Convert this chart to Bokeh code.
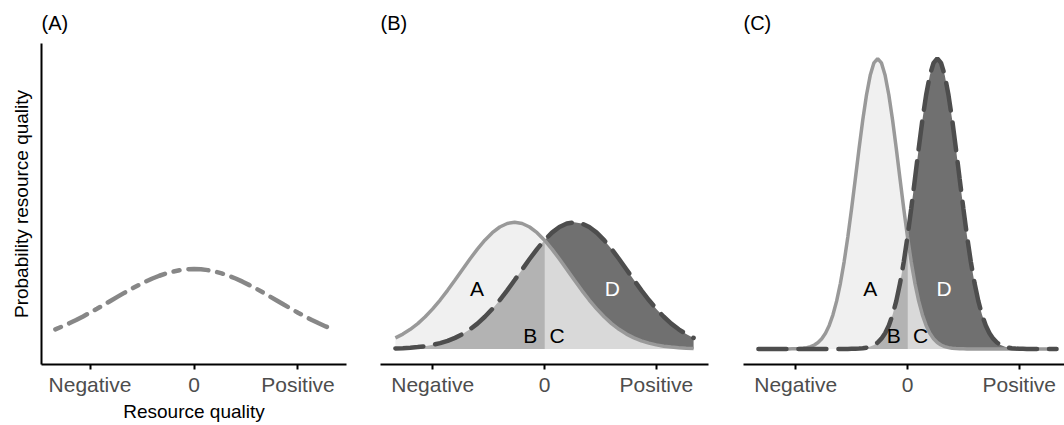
from bokeh.plotting import figure
from bokeh.layouts import row
from bokeh.models import Range1d, FixedTicker
from bokeh.core.properties import value
from bokeh.embed import file_html
from bokeh.resources import INLINE

FONT = "Liberation Sans"

# ---------------- data ----------------
TICKS = [-3, 0, 3]
TICK_LABELS = ["Negative", "0", "Positive"]
PANEL_TITLES = ["(A)", "(B)", "(C)"]
X_TITLE = "Resource quality"
Y_TITLE = "Probability resource quality"

X_AB = [-4.0, -3.8, -3.6, -3.4, -3.2, -3.0, -2.8, -2.6, -2.4, -2.2, -2.0,
        -1.8, -1.6, -1.4, -1.2, -1.0, -0.8, -0.6, -0.4, -0.2, 0.0,
        0.2, 0.4, 0.6, 0.8, 1.0, 1.2, 1.4, 1.6, 1.8, 2.0,
        2.2, 2.4, 2.6, 2.8, 3.0, 3.2, 3.4, 3.6, 3.8, 4.0]

# panel A: single broad curve
A_CURVE = [0.0455, 0.0522, 0.0595, 0.0672, 0.0755, 0.0841, 0.0932, 0.1024, 0.1118, 0.1212, 0.1305,
           0.1395, 0.1480, 0.1560, 0.1633, 0.1697, 0.1752, 0.1795, 0.1827, 0.1847, 0.1853,
           0.1847, 0.1827, 0.1795, 0.1752, 0.1697, 0.1633, 0.1560, 0.1480, 0.1395, 0.1305,
           0.1212, 0.1118, 0.1024, 0.0932, 0.0841, 0.0755, 0.0672, 0.0595, 0.0522, 0.0455]

# panel B: solid (left) and dashed (right) curves
B_SOLID = [0.0257, 0.0345, 0.0455, 0.0588, 0.0746, 0.0929, 0.1134, 0.1359, 0.1598, 0.1843, 0.2085,
           0.2315, 0.2522, 0.2696, 0.2827, 0.2909, 0.2937, 0.2909, 0.2827, 0.2696, 0.2522,
           0.2315, 0.2085, 0.1843, 0.1598, 0.1359, 0.1134, 0.0929, 0.0746, 0.0588, 0.0455,
           0.0345, 0.0257, 0.0188, 0.0135, 0.0095, 0.0065, 0.0044, 0.0029, 0.0019, 0.0012]
B_DASHED = [0.0012, 0.0019, 0.0029, 0.0044, 0.0065, 0.0095, 0.0135, 0.0188, 0.0257, 0.0345, 0.0455,
            0.0588, 0.0746, 0.0929, 0.1134, 0.1359, 0.1598, 0.1843, 0.2085, 0.2315, 0.2522,
            0.2696, 0.2827, 0.2909, 0.2937, 0.2909, 0.2827, 0.2696, 0.2522, 0.2315, 0.2085,
            0.1843, 0.1598, 0.1359, 0.1134, 0.0929, 0.0746, 0.0588, 0.0455, 0.0345, 0.0257]

X_C = [-4.0, -3.9, -3.8, -3.7, -3.6, -3.5, -3.4, -3.3, -3.2, -3.1,
       -3.0, -2.9, -2.8, -2.7, -2.6, -2.5, -2.4, -2.3, -2.2, -2.1,
       -2.0, -1.9, -1.8, -1.7, -1.6, -1.5, -1.4, -1.3, -1.2, -1.1,
       -1.0, -0.9, -0.8, -0.7, -0.6, -0.5, -0.4, -0.3, -0.2, -0.1,
       0.0, 0.1, 0.2, 0.3, 0.4, 0.5, 0.6, 0.7, 0.8, 0.9,
       1.0, 1.1, 1.2, 1.3, 1.4, 1.5, 1.6, 1.7, 1.8, 1.9,
       2.0, 2.1, 2.2, 2.3, 2.4, 2.5, 2.6, 2.7, 2.8, 2.9,
       3.0, 3.1, 3.2, 3.3, 3.4, 3.5, 3.6, 3.7, 3.8, 3.9, 4.0]

# panel C: narrow solid (left) and dashed (right) curves
C_SOLID = [0.0, 0.0, 0.0, 0.0, 0.0, 0.0, 0.0, 0.0,
           0.0001, 0.0003, 0.0005, 0.0010, 0.0018, 0.0031, 0.0055, 0.0092, 0.0150, 0.0238,
           0.0365, 0.0546, 0.0792, 0.1114, 0.1522, 0.2019, 0.2600, 0.3249, 0.3941, 0.4641,
           0.5306, 0.5887, 0.6342, 0.6631, 0.6730, 0.6631, 0.6342, 0.5887, 0.5306, 0.4641,
           0.3941, 0.3249, 0.2600, 0.2019, 0.1522, 0.1114, 0.0792, 0.0546, 0.0365, 0.0238,
           0.0150, 0.0092, 0.0055, 0.0031, 0.0018, 0.0010, 0.0005, 0.0003, 0.0001,
           0.0, 0.0, 0.0, 0.0, 0.0, 0.0, 0.0, 0.0, 0.0, 0.0, 0.0, 0.0,
           0.0, 0.0, 0.0, 0.0, 0.0, 0.0, 0.0, 0.0, 0.0, 0.0, 0.0, 0.0]
C_DASHED = [0.0, 0.0, 0.0, 0.0, 0.0, 0.0, 0.0, 0.0, 0.0, 0.0, 0.0, 0.0,
            0.0, 0.0, 0.0, 0.0, 0.0, 0.0, 0.0, 0.0, 0.0, 0.0, 0.0, 0.0,
            0.0001, 0.0003, 0.0005, 0.0010, 0.0018, 0.0031, 0.0055, 0.0092, 0.0150, 0.0238,
            0.0365, 0.0546, 0.0792, 0.1114, 0.1522, 0.2019, 0.2600, 0.3249, 0.3941, 0.4641,
            0.5306, 0.5887, 0.6342, 0.6631, 0.6730, 0.6631, 0.6342, 0.5887, 0.5306, 0.4641,
            0.3941, 0.3249, 0.2600, 0.2019, 0.1522, 0.1114, 0.0792, 0.0546, 0.0365, 0.0238,
            0.0150, 0.0092, 0.0055, 0.0031, 0.0018, 0.0010, 0.0005, 0.0003, 0.0001,
            0.0, 0.0, 0.0, 0.0, 0.0, 0.0, 0.0, 0.0]

REGION_LABELS = ["A", "B", "C", "D"]
REGION_COLORS = ["black", "black", "black", "white"]
B_LABEL_X = [-1.81, -0.38, 0.34, 1.82]
C_LABEL_X = [-1.00, -0.37, 0.35, 0.98]
LABEL_Y = [0.140, 0.031, 0.031, 0.140]

# ---------------- styling ----------------
Y_START, Y_END = -0.036, 0.708
COL_A_FILL = "#f0f0f0"
COL_B_FILL = "#b3b3b3"
COL_C_FILL = "#d9d9d9"
COL_D_FILL = "#707070"
COL_SOLID = "#999999"
COL_DASHED = "#4d4d4d"
COL_A_LINE = "#878787"


def make_fig(width, left, right, x_end, title):
    p = figure(width=width, height=425, x_range=Range1d(-4.4, x_end),
               y_range=Range1d(Y_START, Y_END), output_backend="svg",
               toolbar_location=None, min_border_left=left, min_border_right=right,
               min_border_top=43, min_border_bottom=61, title=title)
    p.outline_line_color = None
    p.grid.visible = False
    p.background_fill_color = "white"
    p.border_fill_color = "white"
    p.title.text_font = FONT
    p.title.text_font_size = "20px"
    p.title.text_font_style = "normal"
    p.title.text_color = "black"
    p.title.align = "left"
    p.title.offset = 0
    p.title.standoff = 19
    xa = p.xaxis[0]
    xa.ticker = FixedTicker(ticks=TICKS)
    xa.major_label_overrides = dict(zip(TICKS, TICK_LABELS))
    xa.major_label_text_font = FONT
    xa.major_label_text_font_size = "21px"
    xa.major_label_text_color = "#4d4d4d"
    xa.axis_line_color = "black"
    xa.axis_line_width = 2
    xa.major_tick_line_color = "black"
    xa.major_tick_line_width = 2
    xa.major_tick_in = 0
    xa.major_tick_out = 5
    xa.minor_tick_line_color = None
    xa.major_label_standoff = 3
    return p


def two_curve_panel(p, xs, solid, dashed, mid, label_x):
    p.varea(x=xs[:mid + 1], y1=0, y2=solid[:mid + 1], fill_color=COL_A_FILL)
    p.varea(x=xs[:mid + 1], y1=0, y2=dashed[:mid + 1], fill_color=COL_B_FILL)
    p.varea(x=xs[mid:], y1=0, y2=dashed[mid:], fill_color=COL_D_FILL)
    p.varea(x=xs[mid:], y1=0, y2=solid[mid:], fill_color=COL_C_FILL)
    p.line(xs, solid, line_color=COL_SOLID, line_width=3.5)
    p.line(xs, dashed, line_color=COL_DASHED, line_width=4.5, line_dash="28 12",
           line_cap="round")
    p.text(x=label_x, y=LABEL_Y, text=REGION_LABELS, text_color=REGION_COLORS,
           text_font=value(FONT), text_font_size="21px", text_align="center",
           text_baseline="middle")
    p.yaxis.visible = False


# Panel A
pA = make_fig(360, 41, 14, 4.4, PANEL_TITLES[0])
pA.line(X_AB, A_CURVE, line_color=COL_A_LINE, line_width=4.5, line_dash="6 9 20 9",
        line_cap="round")
xa = pA.xaxis[0]
xa.axis_label = X_TITLE
xa.axis_label_text_font = FONT
xa.axis_label_text_font_size = "19px"
xa.axis_label_text_font_style = "normal"
xa.axis_label_text_color = "black"
xa.axis_label_standoff = 2
ya = pA.yaxis[0]
ya.ticker = FixedTicker(ticks=[])
ya.major_tick_out = 0
ya.major_tick_in = 0
ya.minor_tick_line_color = None
ya.axis_line_color = "black"
ya.axis_line_width = 2
ya.axis_label = Y_TITLE
ya.axis_label_text_font = FONT
ya.axis_label_text_font_size = "19px"
ya.axis_label_text_font_style = "normal"
ya.axis_label_text_color = "black"
ya.axis_label_standoff = 10

# Panel B
pB = make_fig(350, 20, 2, 4.4, PANEL_TITLES[1])
two_curve_panel(pB, X_AB, B_SOLID, B_DASHED, 20, B_LABEL_X)

# Panel C (cut off at the right edge)
pC = make_fig(354, 33, 0, 4.213, PANEL_TITLES[2])
two_curve_panel(pC, X_C, C_SOLID, C_DASHED, 40, C_LABEL_X)

layout = row(pA, pB, pC)
open("out.html", "w").write(file_html(layout, INLINE))
